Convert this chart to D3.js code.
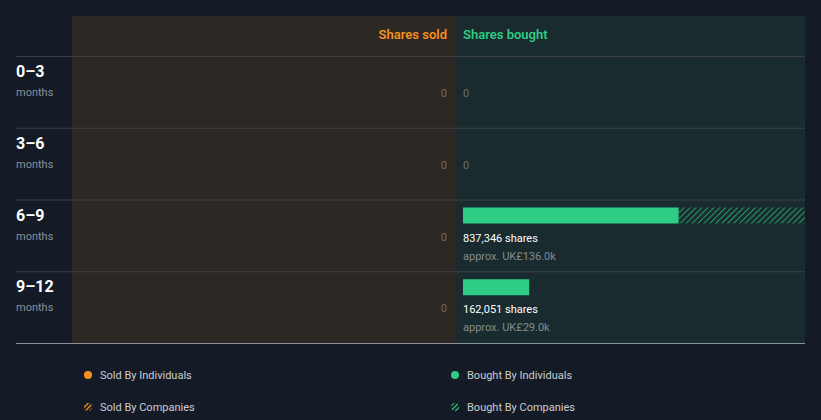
<!DOCTYPE html>
<html><head><meta charset="utf-8">
<script src="https://cdn.jsdelivr.net/npm/d3@7/dist/d3.min.js"></script>
<style>
html,body{margin:0;padding:0;background:#151b26;}
svg{display:block;font-family:Roboto,"Noto Sans",sans-serif;}
</style></head>
<body><svg id="c" width="821" height="420"></svg>
<script>
const periods = ["0–3", "3–6", "6–9", "9–12"];
const periodUnit = "months";
const soldIndividuals = [0, 0, 0, 0];
const soldCompanies = [0, 0, 0, 0];
const boughtIndividuals = [0, 0, 528000, 162051];
const boughtCompanies = [0, 0, 309346, 0];
const boughtTotalLabels = ["0", "0", "837,346 shares", "162,051 shares"];
const boughtValueLabels = ["", "", "approx. UK£136.0k", "approx. UK£29.0k"];
const legendItems = ["Sold By Individuals", "Bought By Individuals", "Sold By Companies", "Bought By Companies"];

(function () {
const svg = d3.select("#c");
const gLeft = 16, gRight = 805, gTop = 16, headerBottom = 56, gBottom = 343;
const mid = 455, soldLeft = 72;
const orange = "#f5911e", green = "#2ecc84";

const defs = svg.append("defs");
function hatch(id, color, w, sw, op) {
  const p = defs.append("pattern").attr("id", id).attr("patternUnits", "userSpaceOnUse")
    .attr("width", w).attr("height", w).attr("patternTransform", "rotate(45)");
  p.append("line").attr("x1", 0).attr("y1", 0).attr("x2", 0).attr("y2", w)
    .attr("stroke", color).attr("stroke-width", sw).attr("stroke-opacity", op);
}
hatch("hg", green, 4.2, 2, 0.7);
hatch("hgl", green, 3.4, 2.6, 1);
hatch("hol", orange, 3.4, 2.6, 1);

svg.append("rect").attr("x", soldLeft).attr("y", gTop).attr("width", mid - soldLeft).attr("height", gBottom - gTop).attr("fill", "#2d2823");
svg.append("rect").attr("x", mid).attr("y", gTop).attr("width", gRight - mid).attr("height", gBottom - gTop).attr("fill", "#192b2e");

svg.append("text").attr("x", mid - 8).attr("y", 39).attr("text-anchor", "end")
  .attr("fill", orange).attr("font-size", 13).attr("font-weight", 600).text("Shares sold");
svg.append("text").attr("x", mid + 8).attr("y", 39)
  .attr("fill", green).attr("font-size", 13).attr("font-weight", 600).text("Shares bought");

const y = d3.scaleBand().domain(periods).range([headerBottom, gBottom]);
const maxVal = d3.max(boughtIndividuals.map((v, i) => v + boughtCompanies[i] + soldIndividuals[i] + soldCompanies[i]));
const xb = d3.scaleLinear().domain([0, maxVal]).range([mid + 8, gRight]);

periods.forEach(p => {
  svg.append("line").attr("x1", gLeft).attr("x2", gRight).attr("y1", y(p) + 0.5).attr("y2", y(p) + 0.5)
    .attr("stroke", "#3c4044").attr("stroke-width", 1);
});
svg.append("line").attr("x1", gLeft).attr("x2", gRight).attr("y1", gBottom + 0.5).attr("y2", gBottom + 0.5)
  .attr("stroke", "#8d9399").attr("stroke-width", 1);

periods.forEach((p, i) => {
  const y0 = y(p);
  svg.append("text").attr("x", gLeft).attr("y", y0 + 21).attr("fill", "#ffffff")
    .attr("font-size", 16).attr("font-weight", 700).text(p);
  svg.append("text").attr("x", gLeft).attr("y", y0 + 40).attr("fill", "#8a8f98")
    .attr("font-size", 11).text(periodUnit);
  const sTot = soldIndividuals[i] + soldCompanies[i];
  if (sTot === 0) {
    svg.append("text").attr("x", mid - 8).attr("y", y0 + 41).attr("text-anchor", "end")
      .attr("fill", "#6e6a66").attr("font-size", 11).text("0");
  }
  const bTot = boughtIndividuals[i] + boughtCompanies[i];
  if (bTot === 0) {
    svg.append("text").attr("x", mid + 8).attr("y", y0 + 41)
      .attr("fill", "#61706f").attr("font-size", 11).text(boughtTotalLabels[i]);
  } else {
    svg.append("rect").attr("x", xb(0)).attr("y", y0 + 8).attr("width", xb(boughtIndividuals[i]) - xb(0))
      .attr("height", 16).attr("fill", green);
    if (boughtCompanies[i] > 0) {
      svg.append("rect").attr("x", xb(boughtIndividuals[i])).attr("y", y0 + 8)
        .attr("width", xb(bTot) - xb(boughtIndividuals[i])).attr("height", 16).attr("fill", "url(#hg)");
    }
    svg.append("text").attr("x", mid + 8).attr("y", y0 + 42).attr("fill", "#ffffff")
      .attr("font-size", 11).attr("font-weight", 400).text(boughtTotalLabels[i]);
    svg.append("text").attr("x", mid + 8).attr("y", y0 + 60).attr("fill", "#828b8c")
      .attr("font-size", 11).text(boughtValueLabels[i]);
  }
});

const lx = [88, 455], ly = [375, 407];
legendItems.forEach((t, i) => {
  const cx = lx[i % 2], cy = ly[Math.floor(i / 2)];
  const col = i % 2 === 0 ? orange : green;
  const fill = i < 2 ? col : (i % 2 === 0 ? "url(#hol)" : "url(#hgl)");
  svg.append("circle").attr("cx", cx).attr("cy", cy).attr("r", 4).attr("fill", fill);
  svg.append("text").attr("x", cx + 12).attr("y", cy + 4).attr("fill", "#c9cdd3").attr("font-size", 11).text(t);
});
})();
</script></body></html>
